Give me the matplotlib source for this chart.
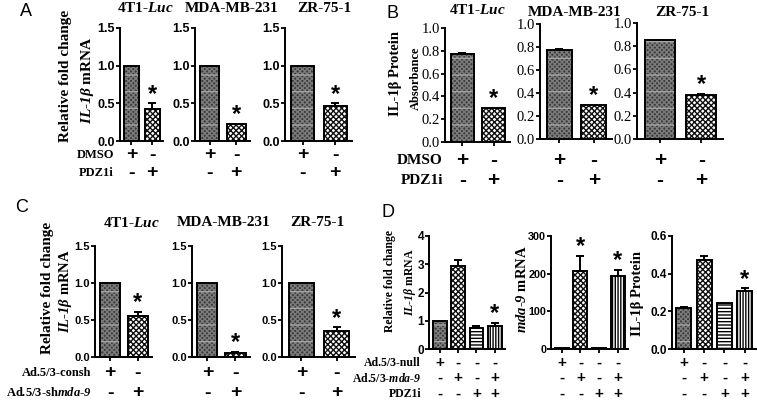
import numpy as np
import matplotlib
matplotlib.use('Agg')
import matplotlib.pyplot as plt
from matplotlib.transforms import blended_transform_factory

W, H = 757, 401
SERIF = 'Liberation Serif'
SANS = 'Liberation Sans'

plt.rcParams['mathtext.fontset'] = 'custom'
plt.rcParams['mathtext.rm'] = SERIF + ':bold'
plt.rcParams['mathtext.it'] = SERIF + ':italic:bold'
plt.rcParams['mathtext.bf'] = SERIF + ':bold'
plt.rcParams['mathtext.bfit'] = SERIF + ':italic:bold'
plt.rcParams['hatch.linewidth'] = 1.0

# ---- data ----
cell_lines = ['4T1-$\\mathbfit{Luc}$', 'MDA-MB-231', 'ZR-75-1']

# A: IL-1b mRNA, DMSO vs PDZ1i
a_vals = [[1.0, 0.42], [1.0, 0.22], [1.0, 0.46]]
a_errs = [[0.0, 0.08], [0.0, 0.01], [0.0, 0.04]]
a_rows = ['DMSO', 'PDZ1i']
a_signs = [['+', '-'], ['-', '+']]

# B: IL-1b protein absorbance
b_vals = [[0.77, 0.30], [0.77, 0.30], [0.85, 0.38]]
b_errs = [[0.01, 0.0], [0.01, 0.0], [0.005, 0.01]]

# C: IL-1b mRNA, consh vs shmda-9
c_vals = [[1.0, 0.55], [1.0, 0.05], [1.0, 0.35]]
c_errs = [[0.0, 0.06], [0.0, 0.02], [0.0, 0.05]]
c_rows = ['Ad.5/3-consh', 'Ad.5/3-sh$\\mathbfit{mda}$-$\\mathbfit{9}$']
c_signs = [['+', '-'], ['-', '+']]

# D: null / mda-9 / PDZ1i
d_mrna = [1.0, 2.93, 0.75, 0.83]
d_mrna_err = [0.0, 0.22, 0.07, 0.10]
d_mda9 = [2, 207, 2, 193]
d_mda9_err = [0, 40, 0, 18]
d_prot = [0.22, 0.475, 0.245, 0.31]
d_prot_err = [0.005, 0.02, 0.0, 0.012]
d_rows = ['Ad.5/3-null', 'Ad.5/3-$\\mathbfit{mda}$-$\\mathbfit{9}$', 'PDZ1i']
d_signs = [['+', '-', '-', '-'], ['-', '+', '-', '+'], ['-', '-', '+', '+']]

# face, hatch, hatch colour, optional light band overlay
STYLE = {
    'dark': ('#3a3a3a', 'xxxxxxx', '#7c7c7c', True),
    'check': ('white', 'xxxxxx', '#111111', False),
    'hstripe': ('white', '-----', 'black', False),
    'vstripe': ('white', '||||||', 'black', False),
}

fig = plt.figure(figsize=(W / 100, H / 100), dpi=100)


def axes_px(x0, x1, ytop, ybot):
    return fig.add_axes([x0 / W, 1 - ybot / H, (x1 - x0) / W, (ybot - ytop) / H])


def ftext(x, y, s, **kw):
    fig.text(x / W, 1 - y / H, s, **kw)


def bar_panel(ax, vals, errs, styles, stars, ymax, yticks, fmt, tickfont, tsize):
    n = len(vals)
    x = np.arange(n)
    width = 0.72 if n == 2 else 0.75
    for xi, v, e, st in zip(x, vals, errs, styles):
        fc, hatch, hc, bands = STYLE[st]
        ax.bar(xi, v, width, color=fc, hatch=hatch, edgecolor=hc, linewidth=0, zorder=2)
        if bands:
            ax.bar(xi, v, width, fill=False, hatch='-', edgecolor='#a5a5a5', linewidth=0, zorder=2.5)
        ax.bar(xi, v, width, fill=False, edgecolor='black', linewidth=1.4, zorder=3)
        if e > 0:
            ax.errorbar(xi, v, yerr=[[0], [e]], fmt='none', ecolor='black',
                        elinewidth=1.4, capsize=3, capthick=1.4, zorder=4)
    ax.set_ylim(0, ymax)
    if n == 2:
        ax.set_xlim(-0.55, 1.52)
    else:
        ax.set_xlim(-0.58, 3.55)
    ax.set_yticks(yticks)
    ax.set_yticklabels([fmt % t for t in yticks], fontfamily=tickfont,
                       fontweight='bold' if tickfont == SANS else 'normal', fontsize=tsize)
    ax.set_xticks(x)
    ax.set_xticklabels([])
    for s in ['top', 'right']:
        ax.spines[s].set_visible(False)
    for s in ['left', 'bottom']:
        ax.spines[s].set_linewidth(1.4)
    ax.tick_params(direction='out', length=3, width=1.3, pad=0.5)
    # stars
    hpx = ax.get_position().height * H
    per_px = ymax / hpx
    for xi in stars:
        top = vals[xi] + errs[xi]
        ax.text(xi, top + 9 * per_px, '*', ha='center', va='center',
                fontsize=17, fontweight='bold', fontfamily=SANS, zorder=5)


def signs(ax, rows_y, sign_rows, size):
    tr = blended_transform_factory(ax.transData, fig.transFigure)
    for y, row in zip(rows_y, sign_rows):
        for i, s in enumerate(row):
            ax.text(i, 1 - y / H, s, transform=tr, ha='center', va='center',
                    fontsize=size, fontweight='bold', fontfamily=SANS)


# ---------------- Panel A ----------------
ftext(26, 12, 'A', fontsize=13, fontfamily=SANS, ha='center', va='center')
a_boxes = [(120, 163), (195, 250), (285, 352)]
a_title_x = [145, 232, 324]
for k, (x0, x1) in enumerate(a_boxes):
    ax = axes_px(x0, x1, 28, 141)
    bar_panel(ax, a_vals[k], a_errs[k], ['dark', 'check'], [1], 1.5,
              [0, 0.5, 1.0, 1.5], '%.1f', SANS, 9)
    signs(ax, [155, 173], a_signs, 14)
    ftext(a_title_x[k], 8, cell_lines[k], ha='center', va='center',
          fontsize=11, fontweight='bold', fontfamily=SERIF)
ftext(114, 155, a_rows[0], ha='right', va='center', fontsize=9, fontweight='bold', fontfamily=SERIF)
ftext(114, 173, a_rows[1], ha='right', va='center', fontsize=9, fontweight='bold', fontfamily=SERIF)
ftext(65, 76, 'Relative fold change', rotation=90, ha='center', va='center',
      fontsize=11, fontweight='bold', fontfamily=SERIF)
ftext(87, 80, '$\\mathbfit{IL}$-$\\mathbfit{1β}$ mRNA', rotation=90, ha='center', va='center',
      fontsize=11, fontweight='bold', fontfamily=SERIF)

# ---------------- Panel B ----------------
ftext(393, 13, 'B', fontsize=13, fontfamily=SANS, ha='center', va='center')
b_boxes = [(445, 510, 28, 142), (540, 612, 24, 139), (637, 723, 23, 139)]
b_title = [(477, 10), (575, 12), (682, 13)]
for k, (x0, x1, yt, yb) in enumerate(b_boxes):
    ax = axes_px(x0, x1, yt, yb)
    bar_panel(ax, b_vals[k], b_errs[k], ['dark', 'check'], [1], 1.0,
              [0, 0.2, 0.4, 0.6, 0.8, 1.0], '%.1f', SERIF, 10.5)
    signs(ax, [160, 180], a_signs, 15)
    ftext(b_title[k][0], b_title[k][1], cell_lines[k], ha='center', va='center',
          fontsize=11, fontweight='bold', fontfamily=SERIF)
ftext(443, 160, a_rows[0], ha='right', va='center', fontsize=11, fontweight='bold', fontfamily=SERIF)
ftext(443, 180, a_rows[1], ha='right', va='center', fontsize=11, fontweight='bold', fontfamily=SERIF)
ftext(396, 73, 'IL-1β Protein', rotation=90, ha='center', va='center',
      fontsize=10.5, fontweight='bold', fontfamily=SERIF)
ftext(416, 78, 'Absorbance', rotation=90, ha='center', va='center',
      fontsize=9, fontweight='bold', fontfamily=SERIF)

# ---------------- Panel C ----------------
ftext(22, 208, 'C', fontsize=13, fontfamily=SANS, ha='center', va='center')
c_boxes = [(95, 152), (192, 250), (282, 355)]
c_title_x = [131, 224, 317]
for k, (x0, x1) in enumerate(c_boxes):
    ax = axes_px(x0, x1, 246, 357)
    bar_panel(ax, c_vals[k], c_errs[k], ['dark', 'check'], [1], 1.5,
              [0, 0.5, 1.0, 1.5], '%.1f', SANS, 8)
    signs(ax, [373, 393], c_signs, 14)
    ftext(c_title_x[k], 223, cell_lines[k], ha='center', va='center',
          fontsize=11, fontweight='bold', fontfamily=SERIF)
ftext(91, 373, c_rows[0], ha='right', va='center', fontsize=9, fontweight='bold', fontfamily=SERIF)
ftext(91, 393, c_rows[1], ha='right', va='center', fontsize=9, fontweight='bold', fontfamily=SERIF)
ftext(48, 288, 'Relative fold change', rotation=90, ha='center', va='center',
      fontsize=11, fontweight='bold', fontfamily=SERIF)
ftext(66, 291, '$\\mathbfit{IL}$-$\\mathbfit{1β}$ mRNA', rotation=90, ha='center', va='center',
      fontsize=10.5, fontweight='bold', fontfamily=SERIF)

# ---------------- Panel D ----------------
ftext(388, 212, 'D', fontsize=13, fontfamily=SANS, ha='center', va='center')
d_styles = ['dark', 'check', 'hstripe', 'vstripe']
ax = axes_px(429, 505, 236, 349)
bar_panel(ax, d_mrna, d_mrna_err, d_styles, [3], 4, [0, 1, 2, 3, 4], '%d', SANS, 8.5)
signs(ax, [363, 378, 394], d_signs, 11)
ax = axes_px(551, 628, 236, 349)
bar_panel(ax, d_mda9, d_mda9_err, d_styles, [1, 3], 300, [0, 100, 200, 300], '%d', SANS, 7.8)
signs(ax, [363, 378, 394], d_signs, 11)
ax = axes_px(672, 756, 236, 349)
bar_panel(ax, d_prot, d_prot_err, d_styles, [3], 0.6, [0, 0.2, 0.4, 0.6], '%.1f', SANS, 8.5)
signs(ax, [363, 378, 394], d_signs, 11)
for y, lab in zip([363, 378, 394], d_rows):
    ftext(421, y, lab, ha='right', va='center', fontsize=8.5, fontweight='bold', fontfamily=SERIF)
ftext(390, 281, 'Relative fold change', rotation=90, ha='center', va='center',
      fontsize=8.5, fontweight='bold', fontfamily=SERIF)
ftext(410, 282, '$\\mathbfit{IL}$-$\\mathbfit{1β}$ mRNA', rotation=90, ha='center', va='center',
      fontsize=8.5, fontweight='bold', fontfamily=SERIF)
ftext(522, 289, '$\\mathbfit{mda}$-$\\mathbfit{9}$ mRNA', rotation=90, ha='center', va='center',
      fontsize=10.5, fontweight='bold', fontfamily=SERIF)
ftext(638, 294, 'IL-1β Protein', rotation=90, ha='center', va='center',
      fontsize=10.5, fontweight='bold', fontfamily=SERIF)

fig.savefig('out.png', dpi=100)
